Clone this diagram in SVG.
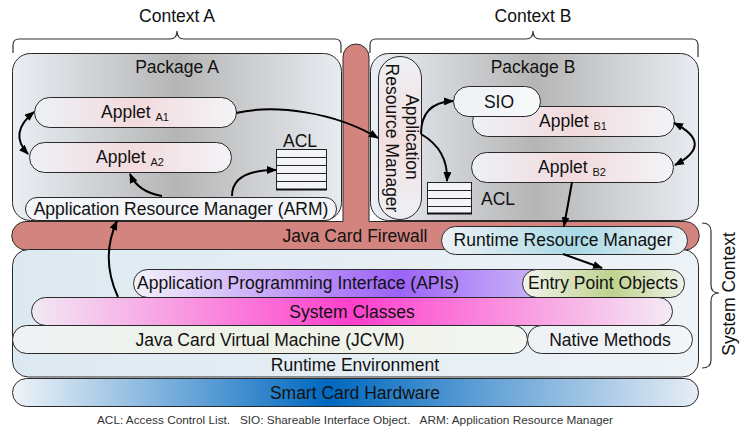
<svg xmlns="http://www.w3.org/2000/svg" width="740" height="429" viewBox="0 0 740 429">
<style>
text{font-family:"Liberation Sans",Arial,sans-serif;fill:#111;}
.lbl{font-size:17.5px;text-anchor:middle;}
.sub{font-size:11px;}
.ol{stroke:#2a2a2a;stroke-width:1;}
.br{fill:none;stroke:#333;stroke-width:1.2;}
.ar{fill:none;stroke:#000;stroke-width:2;marker-end:url(#ah);}
.ar2{fill:none;stroke:#000;stroke-width:2;marker-end:url(#ah);marker-start:url(#ah);}
.tbl{fill:#f2f4f7;stroke:#222;stroke-width:1;}
.tl{stroke:#222;stroke-width:1;}
</style>
<defs>
<marker id="ah" viewBox="0 0 10 8" refX="9" refY="4" markerWidth="10" markerHeight="8" markerUnits="userSpaceOnUse" orient="auto-start-reverse"><path d="M0,0 L10,4 L0,8 Z" fill="#000"/></marker>
<linearGradient id="gPkg" x1="0" y1="0" x2="1" y2="0"><stop offset="0" stop-color="#eaeff5"/><stop offset="0.5" stop-color="#b5b5b5"/><stop offset="1" stop-color="#e8ecf1"/></linearGradient>
<linearGradient id="gApp" x1="0" y1="0" x2="1" y2="0"><stop offset="0" stop-color="#edf1f6"/><stop offset="0.5" stop-color="#f2dadd"/><stop offset="1" stop-color="#f3f4f7"/></linearGradient>
<linearGradient id="gArmB" x1="0" y1="0" x2="0" y2="1"><stop offset="0" stop-color="#eef0f4"/><stop offset="0.5" stop-color="#f2dfe0"/><stop offset="1" stop-color="#eef0f4"/></linearGradient>
<linearGradient id="gSio" x1="0" y1="0" x2="1" y2="0"><stop offset="0" stop-color="#eef1f6"/><stop offset="1" stop-color="#f8f9fb"/></linearGradient>
<linearGradient id="gRte" x1="0" y1="0" x2="1" y2="0"><stop offset="0" stop-color="#dde9f1"/><stop offset="1" stop-color="#eef3f7"/></linearGradient>
<linearGradient id="gRrm" x1="0" y1="0" x2="1" y2="0"><stop offset="0" stop-color="#eef2f6"/><stop offset="0.55" stop-color="#a9d9e5"/><stop offset="1" stop-color="#eef3f6"/></linearGradient>
<linearGradient id="gApi" x1="0" y1="0" x2="1" y2="0"><stop offset="0" stop-color="#f4f2fa"/><stop offset="0.6" stop-color="#9c62f6"/><stop offset="1" stop-color="#d6c9f8"/></linearGradient>
<linearGradient id="gEpo" x1="0" y1="0" x2="1" y2="0"><stop offset="0" stop-color="#f2f4ee"/><stop offset="0.55" stop-color="#bfd28e"/><stop offset="1" stop-color="#eef2e6"/></linearGradient>
<linearGradient id="gSys" x1="0" y1="0" x2="1" y2="0"><stop offset="0" stop-color="#f1e9f4"/><stop offset="0.5" stop-color="#ff3fcc"/><stop offset="1" stop-color="#f4eaf4"/></linearGradient>
<linearGradient id="gJvm" x1="0" y1="0" x2="1" y2="0"><stop offset="0" stop-color="#eef2f4"/><stop offset="0.5" stop-color="#eef2e6"/><stop offset="1" stop-color="#f4f6f2"/></linearGradient>
<linearGradient id="gNat" x1="0" y1="0" x2="1" y2="0"><stop offset="0" stop-color="#edf1f5"/><stop offset="1" stop-color="#f3f5f8"/></linearGradient>
<linearGradient id="gHw" x1="0" y1="0" x2="1" y2="0"><stop offset="0" stop-color="#f0f4f8"/><stop offset="0.46" stop-color="#0068bf"/><stop offset="1" stop-color="#e6edf5"/></linearGradient>
</defs>

<g id="context-a">
<path class="br" d="M13,53 V45 Q13,39 19,39 H170 Q177,39 177,31 Q177,39 184,39 H335 Q341,39 341,45 V53"/>
<text class="lbl" x="177" y="22">Context A</text>
</g>
<g id="context-b">
<path class="br" d="M370,53 V45 Q370,39 376,39 H526 Q533,39 533,31 Q533,39 540,39 H692 Q698,39 698,45 V57"/>
<text class="lbl" x="533" y="22">Context B</text>
</g>
<g id="system-context">
<path class="br" d="M702,223 Q711,223 711,231 V285 Q711,293 719,293 Q711,293 711,301 V360 Q711,368 702,368"/>
<text class="lbl" transform="translate(735,294) rotate(-90)">System Context</text>
</g>

<g id="package-a">
<rect class="ol" x="12.5" y="53.5" width="329" height="167" rx="18" fill="url(#gPkg)"/>
<text class="lbl" x="177" y="73">Package A</text>
</g>
<g id="package-b">
<rect class="ol" x="370.5" y="53.5" width="328" height="167" rx="18" fill="url(#gPkg)"/>
<text class="lbl" x="533" y="73">Package B</text>
</g>

<g id="firewall">
<path class="ol" fill="#d3847e" d="M26,221.5 H343 V57 A13,13 0 0 1 369,57 V221.5 H685 A14.25,14.25 0 0 1 685,250 H26 A14.25,14.25 0 0 1 26,221.5 Z"/>
<text class="lbl" x="355" y="242">Java Card Firewall</text>
</g>

<g id="runtime-environment">
<rect class="ol" x="12.5" y="249.5" width="686" height="127.5" rx="16" fill="url(#gRte)"/>
<text class="lbl" x="355" y="371">Runtime Environment</text>
</g>

<g id="runtime-resource-manager">
<rect class="ol" x="441.5" y="226.5" width="246" height="28" rx="14" fill="url(#gRrm)"/>
<text class="lbl" x="563" y="246">Runtime Resource Manager</text>
</g>

<g id="api">
<rect class="ol" x="133.5" y="269.5" width="440" height="28" rx="14" fill="url(#gApi)"/>
<text class="lbl" x="298" y="289">Application Programming Interface (APIs)</text>
</g>
<g id="entry-point-objects">
<rect class="ol" x="522.5" y="269.5" width="162" height="28" rx="14" fill="url(#gEpo)"/>
<text class="lbl" x="603" y="289">Entry Point Objects</text>
</g>
<g id="system-classes">
<rect class="ol" x="31.5" y="297.5" width="641" height="28" rx="14" fill="url(#gSys)"/>
<text class="lbl" x="352" y="318">System Classes</text>
</g>
<g id="jcvm">
<rect class="ol" x="12.5" y="325.5" width="515" height="28" rx="14" fill="url(#gJvm)"/>
<text class="lbl" x="270" y="346">Java Card Virtual Machine (JCVM)</text>
</g>
<g id="native-methods">
<rect class="ol" x="527.5" y="325.5" width="165" height="28" rx="14" fill="url(#gNat)"/>
<text class="lbl" x="610" y="346">Native Methods</text>
</g>
<g id="smart-card-hardware">
<rect class="ol" x="12.5" y="378.5" width="686" height="28" rx="14" fill="url(#gHw)"/>
<text class="lbl" x="355" y="399">Smart Card Hardware</text>
</g>

<g id="applet-a1">
<rect class="ol" x="34.5" y="97.5" width="202" height="30" rx="15" fill="url(#gApp)"/>
<text class="lbl" x="135" y="118">Applet <tspan class="sub" dy="3">A1</tspan></text>
</g>
<g id="applet-a2">
<rect class="ol" x="29.5" y="142.5" width="202" height="30" rx="15" fill="url(#gApp)"/>
<text class="lbl" x="130" y="163">Applet <tspan class="sub" dy="3">A2</tspan></text>
</g>
<g id="acl-a">
<text class="lbl" x="300" y="147">ACL</text>
<rect class="tbl" x="276.5" y="149.5" width="50" height="40"/>
<path class="tl" d="M276.5,157.5 H326.5 M276.5,165.5 H326.5 M276.5,173.5 H326.5 M276.5,181.5 H326.5"/>
<path d="M276,189.5 H327" stroke="#111" stroke-width="2"/>
</g>
<g id="arm-a">
<rect class="ol" x="25.5" y="197.5" width="311" height="23" rx="11.5" fill="#f3f5f9"/>
<text class="lbl" x="181" y="215">Application Resource Manager (ARM)</text>
</g>

<g id="arm-b">
<rect class="ol" x="378.5" y="56.5" width="43" height="163" rx="21.5" fill="url(#gArmB)"/>
<text class="lbl" transform="translate(406,137) rotate(90)">Application</text>
<text class="lbl" transform="translate(386,138) rotate(90)">Resource Manager</text>
</g>
<g id="applet-b1">
<rect class="ol" x="472.5" y="106.5" width="202" height="30" rx="15" fill="url(#gApp)"/>
<text class="lbl" x="573" y="127">Applet <tspan class="sub" dy="3">B1</tspan></text>
</g>
<g id="sio">
<rect class="ol" x="453.5" y="86.5" width="87" height="30" rx="15" fill="url(#gSio)"/>
<text class="lbl" x="499" y="108">SIO</text>
</g>
<g id="applet-b2">
<rect class="ol" x="471.5" y="152.5" width="202" height="30" rx="15" fill="url(#gApp)"/>
<text class="lbl" x="572" y="173">Applet <tspan class="sub" dy="3">B2</tspan></text>
</g>
<g id="acl-b">
<rect class="tbl" x="427.5" y="182.5" width="44" height="31"/>
<path class="tl" d="M427.5,190.5 H471.5 M427.5,198.5 H471.5 M427.5,206.5 H471.5"/>
<path d="M427,213.5 H472" stroke="#111" stroke-width="2"/>
<text x="481" y="205" style="font-size:17.5px">ACL</text>
</g>

<g id="connectors">
<path class="ar2" d="M34,112 Q8,133 28,154"/>
<path class="ar" d="M162,196 Q138,192 130,174"/>
<path class="ar" d="M232,196 C232,180 245,170 276,170"/>
<path class="ar" d="M236,113 C275,104 335,112 378,138"/>
<path class="ar" d="M118,297 Q100,258 117,221"/>
<path class="ar" d="M421,134 C421,112 432,102 453,101"/>
<path class="ar" d="M421,134 C440,145 448,160 447,181"/>
<path class="ar2" d="M674,123 Q715,144 675,165"/>
<path class="ar" d="M572,182 Q568,205 564,226"/>
<path class="ar" d="M563,254 L602,268"/>
</g>

<g id="caption">
<text x="97" y="424" xml:space="preserve" style="font-size:11.8px;fill:#333">ACL: Access Control List.   SIO: Shareable Interface Object.   ARM: Application Resource Manager</text>
</g>
</svg>
